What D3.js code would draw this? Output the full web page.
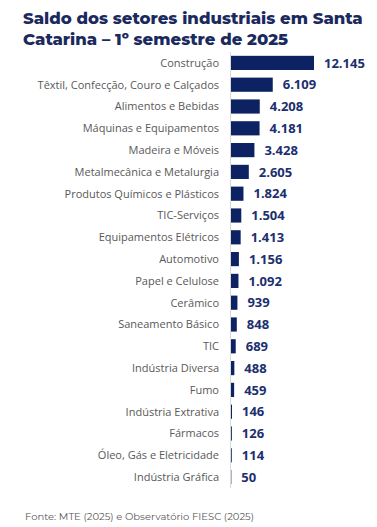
<!DOCTYPE html>
<html>
<head>
<meta charset="utf-8">
<script src="https://cdn.jsdelivr.net/npm/d3@7"></script>
<style>
  body { margin: 0; background: #fff; }
  svg { display: block; }
</style>
</head>
<body>
<div id="chart"></div>
<script>
// Data.
const titleLines = ['Saldo dos setores industriais em Santa', 'Catarina – 1º semestre de 2025'];
const source = 'Fonte: MTE (2025) e Observatório FIESC (2025)';
const sectors = [
    'Construção', 'Têxtil, Confecção, Couro e Calçados', 'Alimentos e Bebidas',
    'Máquinas e Equipamentos', 'Madeira e Móveis', 'Metalmecânica e Metalurgia',
    'Produtos Químicos e Plásticos', 'TIC-Serviços', 'Equipamentos Elétricos',
    'Automotivo', 'Papel e Celulose', 'Cerâmico', 'Saneamento Básico', 'TIC',
    'Indústria Diversa', 'Fumo', 'Indústria Extrativa', 'Fármacos',
    'Óleo, Gás e Eletricidade', 'Indústria Gráfica'
];
const balances = [12145, 6109, 4208, 4181, 3428, 2605, 1824, 1504, 1413, 1156,
    1092, 939, 848, 689, 488, 459, 146, 126, 114, 50];

const width = 377, height = 527;
const dataset = sectors.map((s, i) => ({label: s, value: balances[i]}));

const svg = d3.select('#chart')
    .append('svg')
        .attr('width', width)
        .attr('height', height);

// Title.
svg.append('text')
    .attr('x', 23)
    .attr('y', 24)
    .style('font-family', 'Montserrat, "Open Sans", sans-serif')
    .style('font-weight', 800)
    .style('font-size', '16.5px')
    .attr('fill', '#1b2a5e')
    .selectAll('tspan')
    .data(titleLines)
    .enter()
    .append('tspan')
        .attr('x', 23)
        .attr('dy', (d, i) => i ? 21 : 0)
        .text(d => d);

// Scales.
const x = d3.scaleLinear()
    .domain([0, d3.max(balances)])
    .range([231, 314]);
const y = d3.scaleBand()
    .domain(sectors)
    .range([52, 488])
    .paddingInner(0.35)
    .paddingOuter(0.175);

// Category axis line.
svg.append('line')
    .attr('x1', 230.5).attr('x2', 230.5)
    .attr('y1', 52).attr('y2', 488)
    .attr('stroke', '#d9d9d9')
    .attr('stroke-width', 1);

// Category labels.
svg.selectAll('.cat')
    .data(dataset)
    .enter()
    .append('text')
        .attr('class', 'cat')
        .attr('x', 219)
        .attr('y', d => y(d.label) + y.bandwidth() / 2)
        .attr('dy', '0.35em')
        .attr('text-anchor', 'end')
        .style('font-family', '"Open Sans", sans-serif')
        .style('font-size', '11px')
        .attr('fill', '#595959')
        .text(d => d.label);

// Bars.
svg.selectAll('.bar')
    .data(dataset)
    .enter()
    .append('rect')
        .attr('class', 'bar')
        .attr('x', x(0))
        .attr('y', d => y(d.label))
        .attr('width', d => x(d.value) - x(0))
        .attr('height', y.bandwidth())
        .attr('fill', '#0c2262');

// Value labels.
const fmt = v => v.toLocaleString('pt-BR');
svg.selectAll('.val')
    .data(dataset)
    .enter()
    .append('text')
        .attr('class', 'val')
        .attr('x', d => x(d.value) + 10)
        .attr('y', d => y(d.label) + y.bandwidth() / 2)
        .attr('dy', '0.36em')
        .style('font-family', '"Open Sans", sans-serif')
        .style('font-weight', 700)
        .style('font-size', '13px')
        .attr('fill', '#1c2f6e')
        .text(d => fmt(d.value));

// Source note.
svg.append('text')
    .attr('x', 25)
    .attr('y', 520)
    .style('font-family', 'Montserrat, "Open Sans", sans-serif')
    .style('font-size', '10px')
    .attr('fill', '#595959')
    .text(source);
</script>
</body>
</html>
